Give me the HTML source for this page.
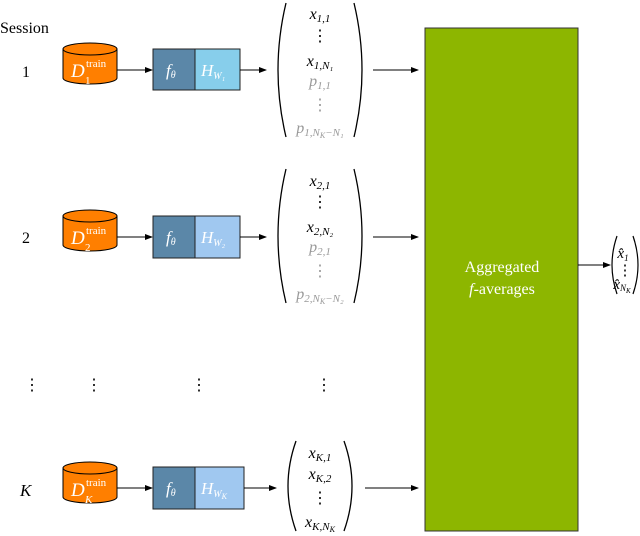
<!DOCTYPE html>
<html><head><style>body{margin:0;background:#fff}svg{display:block}text{font-family:"Liberation Serif",serif}</style></head><body>
<svg width="640" height="536" viewBox="0 0 640 536" xmlns="http://www.w3.org/2000/svg">
<defs><marker id="a" markerWidth="8" markerHeight="6" refX="7" refY="3" orient="auto"><path d="M0,0L8,3L0,6z" fill="#000"/></marker>
<g id="cyl"><path d="M0,6 L0,35 A27,6 0 0 0 54,35 L54,6" fill="#ff7f00" stroke="#000" stroke-width="1"/><ellipse cx="27" cy="6" rx="27" ry="6" fill="#ff7f00" stroke="#000"/></g></defs>
<text x="0" y="33" font-size="16">Session</text>
<text x="22" y="77" font-size="16">1</text>
<text x="22" y="243" font-size="16">2</text>
<text x="20" y="496" font-size="17" font-style="italic">K</text>
<g font-size="16"><text x="24" y="390">⋮</text><text x="86" y="390">⋮</text><text x="191" y="390">⋮</text><text x="316" y="390">⋮</text></g>
<!-- row 1 -->
<use href="#cyl" x="63" y="43"/>
<text x="71" y="77" font-size="19" font-style="italic" fill="#fff">D</text><text x="86" y="67" font-size="11" fill="#fff">train</text><text x="85" y="84" font-size="11" fill="#fff">1</text>
<line x1="117" y1="70" x2="152" y2="70" stroke="#000" marker-end="url(#a)"/>
<rect x="153" y="49" width="42" height="41" fill="#5b87a8" stroke="#222"/>
<rect x="195" y="49" width="45" height="41" fill="#87ceeb" stroke="#222"/>
<text x="166" y="76" font-size="17" font-style="italic" fill="#fff">f<tspan font-size="10" dy="2">θ</tspan></text>
<text x="201" y="76" font-size="17" font-style="italic" fill="#fff">H<tspan font-size="10" dy="3">W₁</tspan></text>
<line x1="240" y1="70" x2="266" y2="70" stroke="#000" marker-end="url(#a)"/>
<path d="M286,3 Q270,70 286,137" fill="none" stroke="#000" stroke-width="1.3"/><path d="M354,3 Q370,70 354,137" fill="none" stroke="#000" stroke-width="1.3"/>
<g font-size="16" font-style="italic" text-anchor="middle"><text x="320" y="19">x<tspan font-size="11" dy="3">1,1</tspan></text><text x="320" y="41" font-style="normal">⋮</text><text x="320" y="66">x<tspan font-size="11" dy="3">1,N₁</tspan></text><text x="320" y="86" fill="#999">p<tspan font-size="11" dy="3">1,1</tspan></text><text x="320" y="110" fill="#999" font-style="normal">⋮</text><text x="320" y="133" fill="#999">p<tspan font-size="11" dy="3">1,N<tspan font-size="8" dy="2">K</tspan><tspan dy="-2">−N₁</tspan></tspan></text></g>
<line x1="373" y1="70" x2="418" y2="70" stroke="#000" marker-end="url(#a)"/>
<!-- row 2 -->
<use href="#cyl" x="63" y="210"/>
<text x="71" y="244" font-size="19" font-style="italic" fill="#fff">D</text><text x="86" y="234" font-size="11" fill="#fff">train</text><text x="85" y="251" font-size="11" fill="#fff">2</text>
<line x1="117" y1="237" x2="152" y2="237" stroke="#000" marker-end="url(#a)"/>
<rect x="153" y="216" width="42" height="42" fill="#5b87a8" stroke="#222"/>
<rect x="195" y="216" width="45" height="42" fill="#a0c8f0" stroke="#222"/>
<text x="166" y="243" font-size="17" font-style="italic" fill="#fff">f<tspan font-size="10" dy="2">θ</tspan></text>
<text x="201" y="243" font-size="17" font-style="italic" fill="#fff">H<tspan font-size="10" dy="3">W₂</tspan></text>
<line x1="240" y1="237" x2="266" y2="237" stroke="#000" marker-end="url(#a)"/>
<path d="M286,169 Q270,236 286,303" fill="none" stroke="#000" stroke-width="1.3"/><path d="M354,169 Q370,236 354,303" fill="none" stroke="#000" stroke-width="1.3"/>
<g font-size="16" font-style="italic" text-anchor="middle"><text x="320" y="186">x<tspan font-size="11" dy="3">2,1</tspan></text><text x="320" y="207" font-style="normal">⋮</text><text x="320" y="232">x<tspan font-size="11" dy="3">2,N₂</tspan></text><text x="320" y="252" fill="#999">p<tspan font-size="11" dy="3">2,1</tspan></text><text x="320" y="276" fill="#999" font-style="normal">⋮</text><text x="320" y="299" fill="#999">p<tspan font-size="11" dy="3">2,N<tspan font-size="8" dy="2">K</tspan><tspan dy="-2">−N₂</tspan></tspan></text></g>
<line x1="373" y1="237" x2="418" y2="237" stroke="#000" marker-end="url(#a)"/>
<!-- row K -->
<use href="#cyl" x="63" y="462"/>
<text x="71" y="496" font-size="19" font-style="italic" fill="#fff">D</text><text x="86" y="486" font-size="11" fill="#fff">train</text><text x="85" y="503" font-size="11" font-style="italic" fill="#fff">K</text>
<line x1="117" y1="488" x2="152" y2="488" stroke="#000" marker-end="url(#a)"/>
<rect x="153" y="467" width="42" height="42" fill="#5b87a8" stroke="#222"/>
<rect x="195" y="467" width="49" height="42" fill="#a0c8f0" stroke="#222"/>
<text x="166" y="494" font-size="17" font-style="italic" fill="#fff">f<tspan font-size="10" dy="2">θ</tspan></text>
<text x="201" y="494" font-size="17" font-style="italic" fill="#fff">H<tspan font-size="10" dy="3">W<tspan font-size="8" dy="2">K</tspan></tspan></text>
<line x1="244" y1="488" x2="276" y2="488" stroke="#000" marker-end="url(#a)"/>
<path d="M296,441 Q280,486 296,531" fill="none" stroke="#000" stroke-width="1.3"/><path d="M344,441 Q360,486 344,531" fill="none" stroke="#000" stroke-width="1.3"/>
<g font-size="16" font-style="italic" text-anchor="middle"><text x="320" y="458">x<tspan font-size="11" dy="3">K,1</tspan></text><text x="320" y="479">x<tspan font-size="11" dy="3">K,2</tspan></text><text x="320" y="503" font-style="normal">⋮</text><text x="320" y="527">x<tspan font-size="11" dy="3">K,N<tspan font-size="8" dy="2">K</tspan></tspan></text></g>
<line x1="365" y1="488" x2="418" y2="488" stroke="#000" marker-end="url(#a)"/>
<!-- aggregate -->
<rect x="425" y="28" width="153" height="503" fill="#8db600" stroke="#333"/>
<text x="502" y="272" font-size="16" fill="#fff" text-anchor="middle">Aggregated</text>
<text x="502" y="294" font-size="16" fill="#fff" text-anchor="middle"><tspan font-style="italic">f</tspan>-averages</text>
<line x1="578" y1="265" x2="610" y2="265" stroke="#000" marker-end="url(#a)"/>
<path d="M617,236 Q607,265 617,294" fill="none" stroke="#000" stroke-width="1.2"/><path d="M633,236 Q643,265 633,294" fill="none" stroke="#000" stroke-width="1.2"/>
<g font-size="15" font-style="italic" text-anchor="middle"><text x="623" y="258">x̂<tspan font-size="9" dy="3">1</tspan></text><text x="625" y="275" font-style="normal">⋮</text><text x="622" y="289">x̂<tspan font-size="9" dy="2">N<tspan font-size="7" dy="2">K</tspan></tspan></text></g>
</svg>
</body></html>
